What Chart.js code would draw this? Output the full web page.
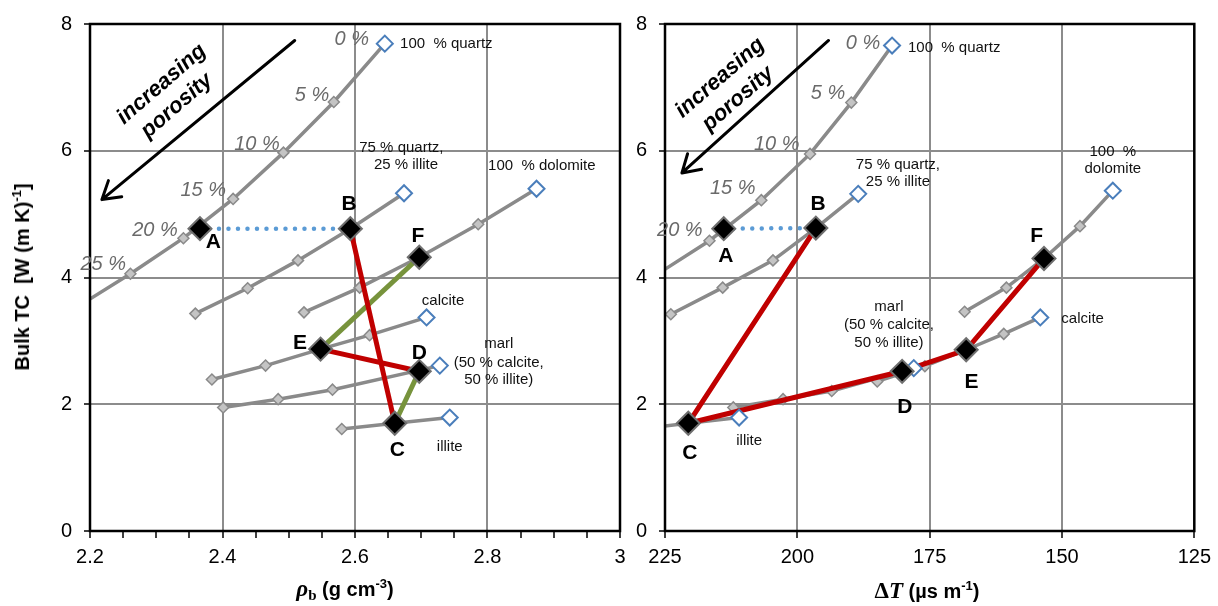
<!DOCTYPE html>
<html>
<head>
<meta charset="utf-8">
<title>Bulk TC vs bulk density and sonic slowness</title>
<script src="https://cdn.jsdelivr.net/npm/chart.js@4.4.1/dist/chart.umd.min.js"></script>
<style>
  body { margin: 0; background: #fff; font-family: "Liberation Sans", Arial, sans-serif; }
  #wrap { position: relative; width: 1218px; height: 606px; overflow: hidden; }
  #leftChart { position: absolute; left: 0; top: 0; }
  #rightChart { position: absolute; left: 620px; top: 0; }
  .axisTitle { position: absolute; font-weight: bold; font-size: 20px; white-space: nowrap; line-height: 1; transform: translate(-50%, -50%); }
  .axisTitle sup { font-size: 13px; vertical-align: 8px; }
  .axisTitle sub { font-size: 15px; vertical-align: -4px; }
  .serif { font-family: "Liberation Serif", "Times New Roman", serif; font-size: 23px; }
</style>
</head>
<body>
<div id="wrap">
  <canvas id="leftChart" width="640" height="606"></canvas>
  <canvas id="rightChart" width="598" height="606"></canvas>
  <div class="axisTitle" style="left:21px; top:277px; transform: translate(-50%,-50%) rotate(-90deg);">Bulk TC&nbsp; [W (m K)<sup>-1</sup>]</div>
  <div class="axisTitle" style="left:345px; top:590px;"><span class="serif"><i>ρ</i><sub>b</sub></span> (g cm<sup>-3</sup>)</div>
  <div class="axisTitle" style="left:927px; top:590px;"><span class="serif">Δ<i>T</i></span> (µs m<sup>-1</sup>)</div>
</div>
<script>
// tick labels
const rhoTickLabels = ['2.2', '2.4', '2.6', '2.8', '3'];
const dtTickLabels = ['225', '200', '175', '150', '125'];
const tcTickLabels = ['0', '2', '4', '6', '8'];

// left panel: bulk density (g cm-3) vs bulk TC, first value = 0 % porosity
const rhoQuartz = [2.645, 2.568, 2.492, 2.416, 2.341, 2.261, 2.180];
const tcQuartzRho = [7.69, 6.77, 5.97, 5.24, 4.62, 4.06, 3.53];
const rhoQzIllite = [2.674, 2.593, 2.514, 2.438, 2.359];
const tcQzIlliteRho = [5.33, 4.77, 4.27, 3.83, 3.43];
const rhoDolomite = [2.874, 2.786, 2.697, 2.607, 2.523];
const tcDolomiteRho = [5.40, 4.84, 4.32, 3.84, 3.45];
const rhoCalcite = [2.708, 2.622, 2.548, 2.465, 2.384];
const tcCalciteRho = [3.37, 3.09, 2.87, 2.61, 2.39];
const rhoMarl = [2.728, 2.566, 2.484, 2.401];
const tcMarlRho = [2.61, 2.23, 2.08, 1.95];
const rhoIllite = [2.743, 2.660, 2.580];
const tcIlliteRho = [1.79, 1.70, 1.61];

// right panel: sonic slowness (us m-1) vs bulk TC
const dtQuartz = [182.1, 189.8, 197.6, 206.8, 216.6, 226.5];
const tcQuartzDt = [7.66, 6.76, 5.95, 5.22, 4.58, 4.05];
const dtQzIllite = [188.5, 196.5, 204.6, 214.1, 223.9];
const tcQzIlliteDt = [5.32, 4.78, 4.27, 3.84, 3.42];
const dtDolomite = [140.4, 146.6, 153.4, 160.5, 168.4];
const tcDolomiteDt = [5.37, 4.81, 4.30, 3.84, 3.46];
const dtCalcite = [154.1, 161.0, 168.1, 175.9, 184.9];
const tcCalciteDt = [3.37, 3.11, 2.86, 2.60, 2.36];
const dtMarl = [178.0, 193.5, 202.7, 212.1];
const tcMarlDt = [2.57, 2.21, 2.08, 1.95];
const dtIllite = [211.0, 220.6, 229.5];
const tcIlliteDt = [1.79, 1.70, 1.61];

// highlighted samples A-F
const pointLetters = ['A', 'B', 'C', 'D', 'E', 'F'];
const rhoSamples = [2.366, 2.593, 2.660, 2.697, 2.548, 2.697];
const tcSamplesRho = [4.77, 4.77, 1.70, 2.52, 2.87, 4.32];
const dtSamples = [213.9, 196.5, 220.6, 180.2, 168.1, 153.4];
const tcSamplesDt = [4.77, 4.78, 1.70, 2.52, 2.86, 4.30];

// connecting paths between samples
const dottedPath = ['A', 'B'];
const leftRedPaths = [['B', 'C'], ['E', 'D']];
const leftGreenPaths = [['F', 'E'], ['D', 'C']];
const rightRedPaths = [['B', 'C', 'D', 'E', 'F']];

const grayLine = '#8a8a8a';

function xy(xs, ys) {
    return xs.map(function (v, i) { return { x: v, y: ys[i] }; });
}

// mixing curve with small gray markers (first point is drawn as open diamond)
function curve(xs, ys) {
    return {
        data: xy(xs, ys), showLine: true, order: 5,
        borderColor: grayLine, borderWidth: 3.5,
        pointStyle: 'rectRot',
        pointRadius: function (c) { return c.dataIndex === 0 ? 0 : 5.5; },
        pointBackgroundColor: '#c4c4c4', pointBorderColor: grayLine, pointBorderWidth: 1.5
    };
}

function endPoints(curves) {
    return {
        data: curves.map(function (c) { return { x: c[0][0], y: c[1][0] }; }),
        showLine: false, order: 2, pointStyle: 'rectRot', pointRadius: 8,
        pointBackgroundColor: '#fff', pointBorderColor: '#4a7ebb', pointBorderWidth: 2
    };
}

function path(letters, xs, ys, color, width, order, dash) {
    const pts = letters.map(function (l) {
        const i = pointLetters.indexOf(l);
        return { x: xs[i], y: ys[i] };
    });
    return {
        data: pts, showLine: true, order: order, pointRadius: 0,
        borderColor: color, borderWidth: width, borderDash: dash || [], borderCapStyle: dash ? 'round' : 'butt'
    };
}

function samples(xs, ys) {
    return {
        data: xy(xs, ys), showLine: false, order: 1, pointStyle: 'rectRot', pointRadius: 11.5,
        pointBackgroundColor: '#000', pointBorderColor: '#6f6f6f', pointBorderWidth: 2
    };
}

function isMajor(v, labels) {
    return labels.includes(String(Math.round(v * 100) / 100));
}

const labelFonts = {
    pct: ['italic 20px "Liberation Sans"', '#6a6a6a'],
    note: ['15px "Liberation Sans"', '#111'],
    pt: ['bold 21px "Liberation Sans"', '#000']
};

// frame, arrow and text annotations
const decor = {
    id: 'decor',
    afterDraw(chart, args, o) {
        const ctx = chart.ctx, a = chart.chartArea;
        const px = v => chart.scales.x.getPixelForValue(v);
        const py = v => chart.scales.y.getPixelForValue(v);
        ctx.save();
        ctx.strokeStyle = '#000';
        ctx.lineWidth = 2.5;
        ctx.strokeRect(a.left, a.top, a.right - a.left, a.bottom - a.top);

        const x0 = px(o.arrow[0]), y0 = py(o.arrow[1]), x1 = px(o.arrow[2]), y1 = py(o.arrow[3]);
        const ang = Math.atan2(y1 - y0, x1 - x0);
        ctx.lineWidth = 3;
        ctx.lineCap = 'round';
        ctx.beginPath();
        ctx.moveTo(x0, y0);
        ctx.lineTo(x1, y1);
        [-1, 1].forEach(function (s) {
            ctx.moveTo(x1, y1);
            ctx.lineTo(x1 - 20 * Math.cos(ang + s * 0.55), y1 - 20 * Math.sin(ang + s * 0.55));
        });
        ctx.stroke();

        ctx.textAlign = 'center';
        ctx.textBaseline = 'middle';
        ctx.fillStyle = '#000';
        ctx.font = 'bold italic 22px "Liberation Sans"';
        o.slanted.forEach(function (t) {
            ctx.save();
            ctx.translate(px(t[1]), py(t[2]));
            ctx.rotate(-41 * Math.PI / 180);
            ctx.fillText(t[0], 0, 0);
            ctx.restore();
        });

        o.labels.forEach(function (l) {
            ctx.font = labelFonts[l[3]][0];
            ctx.fillStyle = labelFonts[l[3]][1];
            ctx.textAlign = l[4] || 'center';
            ctx.fillText(l[0], px(l[1]), py(l[2]));
        });
        ctx.restore();
    }
};

function makeChart(id, cfg) {
    return new Chart(document.getElementById(id), {
        type: 'scatter',
        data: { datasets: cfg.datasets },
        options: {
            responsive: false, animation: false, events: [],
            layout: { padding: cfg.padding },
            plugins: { legend: { display: false }, tooltip: { enabled: false }, decor: cfg.decor },
            scales: {
                x: {
                    type: 'linear', min: cfg.xMin, max: cfg.xMax, reverse: cfg.reverse,
                    afterFit: function (s) { s.height = 75; },
                    border: { display: false },
                    grid: {
                        color: c => (c.tick && isMajor(c.tick.value, cfg.xLabels)) ? '#8c8c8c' : 'rgba(0,0,0,0)',
                        lineWidth: 2, tickColor: '#000', tickWidth: 1.5, tickLength: 7
                    },
                    ticks: {
                        stepSize: cfg.xStep, autoSkip: false, maxRotation: 0, padding: 7,
                        color: '#000', font: { size: 20, family: '"Liberation Sans"' },
                        callback: function (v) { const s = String(Math.round(v * 100) / 100); return cfg.xLabels.includes(s) ? s : ''; }
                    }
                },
                y: {
                    type: 'linear', min: 0, max: 8,
                    afterFit: function (s) { s.width = cfg.yWidth; },
                    border: { display: false },
                    grid: { color: '#8c8c8c', lineWidth: 2, tickColor: '#000', tickWidth: 1.5, tickLength: 6 },
                    ticks: {
                        stepSize: 2, padding: 12, color: '#000', font: { size: 20, family: '"Liberation Sans"' },
                        callback: function (v) { return tcTickLabels.includes(String(v)) ? String(v) : ''; }
                    }
                }
            }
        },
        plugins: [decor]
    });
}

const leftCurves = [[rhoQuartz, tcQuartzRho], [rhoQzIllite, tcQzIlliteRho], [rhoDolomite, tcDolomiteRho],
    [rhoCalcite, tcCalciteRho], [rhoMarl, tcMarlRho], [rhoIllite, tcIlliteRho]];
const rightCurves = [[dtQuartz, tcQuartzDt], [dtQzIllite, tcQzIlliteDt], [dtDolomite, tcDolomiteDt],
    [dtCalcite, tcCalciteDt], [dtMarl, tcMarlDt], [dtIllite, tcIlliteDt]];

const leftSets = leftCurves.map(c => curve(c[0], c[1]))
    .concat([path(dottedPath, rhoSamples, tcSamplesRho, '#5b9bd5', 4.5, 4, [0, 9.5])])
    .concat(leftRedPaths.map(p => path(p, rhoSamples, tcSamplesRho, '#c00000', 5, 3)))
    .concat(leftGreenPaths.map(p => path(p, rhoSamples, tcSamplesRho, '#77933c', 5, 3)))
    .concat([endPoints(leftCurves), samples(rhoSamples, tcSamplesRho)]);

const rightSets = rightCurves.map(c => curve(c[0], c[1]))
    .concat([path(dottedPath, dtSamples, tcSamplesDt, '#5b9bd5', 4.5, 4, [0, 9.5])])
    .concat(rightRedPaths.map(p => path(p, dtSamples, tcSamplesDt, '#c00000', 5, 3)))
    .concat([endPoints(rightCurves), samples(dtSamples, tcSamplesDt)]);

makeChart('leftChart', {
    datasets: leftSets, xMin: 2.2, xMax: 3, xStep: 0.05, reverse: false, xLabels: rhoTickLabels,
    yWidth: 90, padding: { left: 0, right: 20, top: 17, bottom: 0 },
    decor: {
        arrow: [2.509, 7.74, 2.218, 5.23],
        slanted: [['increasing', 2.308, 7.05], ['porosity', 2.331, 6.71]],
        labels: [
            ['0 %', 2.595, 7.75, 'pct'], ['5 %', 2.535, 6.88, 'pct'], ['10 %', 2.452, 6.10, 'pct'],
            ['15 %', 2.371, 5.38, 'pct'], ['20 %', 2.298, 4.74, 'pct'], ['25 %', 2.220, 4.21, 'pct'],
            ['100  % quartz', 2.668, 7.68, 'note', 'left'],
            ['75 % quartz,', 2.670, 6.05, 'note'], ['25 % illite', 2.677, 5.77, 'note'],
            ['100  % dolomite', 2.882, 5.76, 'note'], ['calcite', 2.733, 3.63, 'note'],
            ['marl', 2.817, 2.95, 'note'], ['(50 % calcite,', 2.817, 2.66, 'note'], ['50 % illite)', 2.817, 2.38, 'note'],
            ['illite', 2.743, 1.32, 'note'],
            ['A', 2.386, 4.55, 'pt'], ['B', 2.591, 5.15, 'pt'], ['C', 2.664, 1.27, 'pt'],
            ['D', 2.697, 2.80, 'pt'], ['E', 2.517, 2.96, 'pt'], ['F', 2.695, 4.65, 'pt']
        ]
    }
});

makeChart('rightChart', {
    datasets: rightSets, xMin: 125, xMax: 225, xStep: 25, reverse: true, xLabels: dtTickLabels,
    yWidth: 45, padding: { left: 0, right: 23, top: 17, bottom: 0 },
    decor: {
        arrow: [194.1, 7.74, 221.8, 5.65],
        slanted: [['increasing', 214.6, 7.15], ['porosity', 211.2, 6.82]],
        labels: [
            ['0 %', 187.6, 7.70, 'pct'], ['5 %', 194.2, 6.90, 'pct'], ['10 %', 203.9, 6.10, 'pct'],
            ['15 %', 212.2, 5.40, 'pct'], ['20 %', 222.2, 4.74, 'pct'],
            ['100  % quartz', 179.1, 7.62, 'note', 'left'],
            ['75 % quartz,', 181.0, 5.77, 'note'], ['25 % illite', 181.0, 5.51, 'note'],
            ['100  %', 140.4, 5.98, 'note'], ['dolomite', 140.4, 5.72, 'note'], ['calcite', 146.1, 3.35, 'note'],
            ['marl', 182.7, 3.54, 'note'], ['(50 % calcite,', 182.7, 3.26, 'note'], ['50 % illite)', 182.7, 2.97, 'note'],
            ['illite', 209.1, 1.43, 'note'],
            ['A', 213.5, 4.34, 'pt'], ['B', 196.1, 5.15, 'pt'], ['C', 220.3, 1.23, 'pt'],
            ['D', 179.7, 1.96, 'pt'], ['E', 167.1, 2.34, 'pt'], ['F', 154.8, 4.65, 'pt']
        ]
    }
});
</script>
</body>
</html>
